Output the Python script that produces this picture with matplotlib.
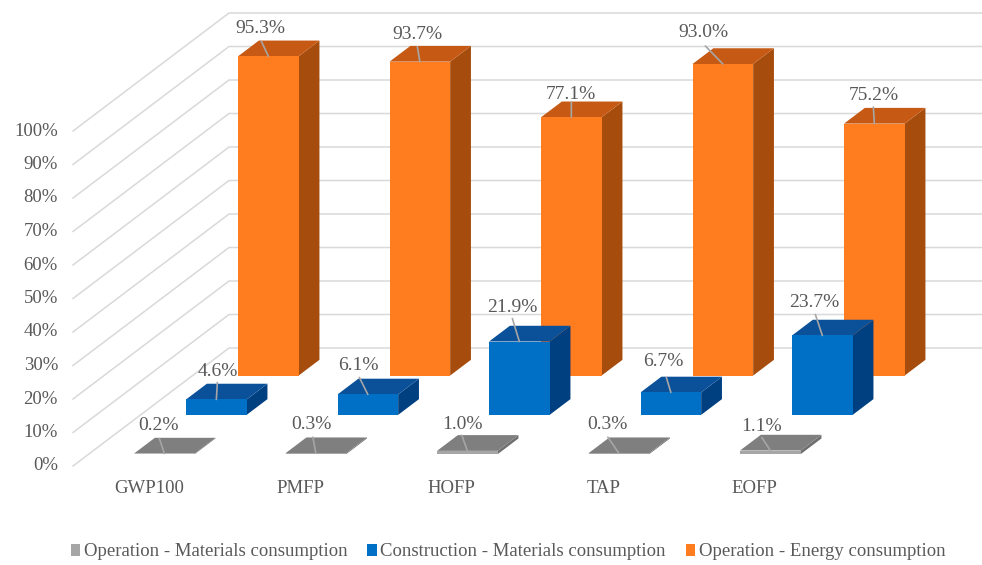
import matplotlib
matplotlib.use("Agg")
import matplotlib.pyplot as plt
from matplotlib.patches import Polygon, Patch
from matplotlib.transforms import ScaledTranslation

plt.rcParams['font.family'] = ['Liberation Serif', 'DejaVu Serif']

categories = ["GWP100", "PMFP", "HOFP", "TAP", "EOFP"]
series_names = ["Operation - Materials consumption",
                "Construction - Materials consumption",
                "Operation - Energy consumption"]
op_materials = [0.2, 0.3, 1.0, 0.3, 1.1]
con_materials = [4.6, 6.1, 21.9, 6.7, 23.7]
op_energy = [95.3, 93.7, 77.1, 93.0, 75.2]
y_ticks = [0, 10, 20, 30, 40, 50, 60, 70, 80, 90, 100]

# layout: pixels per category / per percent, oblique depth
W, H = 982, 565
PX_X, PX_Y = 151.5, 3.35
X0_PX, Y0_PX = 73, 466
DEPTH_X, DEPTH_Y = 52 / PX_X, 39.33 / PX_Y   # shift per depth row
BAR_W, BAR_D = 0.4, 0.4

colors = [("#A6A6A6", "#7F7F7F", "#707070"),
          ("#0070C6", "#0B5199", "#004080"),
          ("#FF7C1F", "#C65A14", "#A64D0E")]
legend_colors = ["#A6A6A6", "#0070C6", "#FF7C1F"]
TXT = "#595959"
GRID = "#D9D9D9"
LEAD = "#A6A6A6"

# offsets of data label and leader start from the bar's top-front centre (pixels, up positive)
label_off = [[(-6, 28), (-4, 29), (-4.5, 26.5), (-11, 29), (-8.5, 24)],
             [(1, 28), (-9.5, 28.5), (-7, 34), (-8, 31), (-8, 33)],
             [(-8, 28), (-2.5, 27), (0, 22.5), (-19.5, 31), (-1, 28.6)]]
lead_off = [[(-5, 15), (-3, 16), (-5.5, 15.6), (-11, 16), (-8.5, 13)],
            [(1, 17), (-8.5, 17), (-7, 23), (-4.5, 15), (-7, 21)],
            [(-7, 15), (-2.5, 15), (0, 15), (-17.5, 18), (-1, 16.6)]]

def proj(x, d, v):
    return x + d * DEPTH_X, v + d * DEPTH_Y

fig = plt.figure(figsize=(W / 100, H / 100), dpi=100)
ax = fig.add_axes([0, 0, 1, 1])
ax.set_xlim(-X0_PX / PX_X, (W - X0_PX) / PX_X)
ax.set_ylim((Y0_PX - H) / PX_Y, Y0_PX / PX_Y)

n = len(categories)
# gridlines on floor edge + back wall
for t in y_ticks:
    a = proj(0, 0, t)
    b = proj(0, 3, t)
    c = proj(n + 0.2, 3, t)
    ax.plot([a[0], b[0], c[0]], [a[1], b[1], c[1]], color=GRID, lw=1.1, zorder=1,
            solid_joinstyle='miter')

all_series = [op_materials, con_materials, op_energy]
# back row first so that front rows overlap
for s in [2, 1, 0]:
    d0 = s + 0.5 - BAR_D / 2
    d1 = d0 + BAR_D
    front, top, side = colors[s]
    z = 2 + (2 - s)
    for i, v in enumerate(all_series[s]):
        x0 = i + 0.5 - BAR_W / 2
        x1 = x0 + BAR_W
        ax.add_patch(Polygon([proj(x1, d0, 0), proj(x1, d1, 0), proj(x1, d1, v), proj(x1, d0, v)],
                             closed=True, fc=side, ec='none', zorder=z))
        ax.add_patch(Polygon([proj(x0, d0, v), proj(x1, d0, v), proj(x1, d1, v), proj(x0, d1, v)],
                             closed=True, fc=top, ec='none', zorder=z))
        ax.add_patch(Polygon([proj(x0, d0, 0), proj(x1, d0, 0), proj(x1, d0, v), proj(x0, d0, v)],
                             closed=True, fc=front, ec='none', zorder=z))

# data labels and leaders on top
for s in range(3):
    d0 = s + 0.5 - BAR_D / 2
    for i, v in enumerate(all_series[s]):
        anchor = proj(i + 0.5, d0, v)
        ax.annotate('', xy=anchor, xytext=lead_off[s][i], textcoords='offset pixels',
                    arrowprops=dict(arrowstyle='-', color=LEAD, lw=1.2, shrinkA=0, shrinkB=0),
                    zorder=6)
        ax.annotate(f"{v:.1f}%", xy=anchor, xytext=label_off[s][i], textcoords='offset pixels',
                    ha='center', va='center', fontsize=14, color=TXT, zorder=7)

ax.spines[['top', 'right']].set_visible(False)
ax.spines['left'].set_position(('data', 0))
ax.spines['bottom'].set_position(('data', 0))
ax.spines['left'].set_visible(False)
ax.spines['bottom'].set_visible(False)
ax.set_yticks(y_ticks)
ax.set_yticklabels([f"{t}%" for t in y_ticks])
ax.set_xticks([i + 0.5 for i in range(n)])
ax.set_xticklabels(categories)
ax.tick_params(axis='y', length=0, pad=10.8, labelsize=13.5, labelcolor=TXT)
ax.tick_params(axis='x', length=0, pad=10.3, labelsize=13.5, labelcolor=TXT)
ax.patch.set_alpha(0)
shift_up = ScaledTranslation(0, 2 / 100, fig.dpi_scale_trans)
for lab in ax.get_yticklabels():
    lab.set_transform(lab.get_transform() + shift_up)

handles = [Patch(fc=c, ec='none') for c in legend_colors]
fig.legend(handles, series_names, ncol=3, loc='center', bbox_to_anchor=(508 / W, 1 - 552 / H),
           frameon=False, fontsize=13.5, labelcolor=TXT, handlelength=0.5, handleheight=0.55,
           handletextpad=0.2, columnspacing=1.05, borderpad=0, borderaxespad=0)

fig.savefig("out.png", dpi=100)
